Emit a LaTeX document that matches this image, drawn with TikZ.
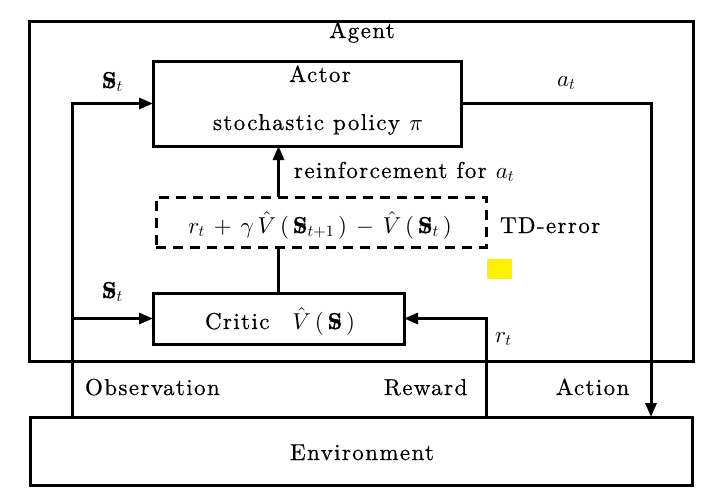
\documentclass[tikz,border=0pt]{standalone}
\usepackage{fontspec}
\setmainfont{lmroman10-regular.otf}[LetterSpace=6,FakeBold=0.6,BoldFont=lmroman10-bold.otf,ItalicFont=lmroman10-italic.otf]
\DeclareFontShape{OML}{cmm}{m}{it}{<->cmmi10}{}
\DeclareFontShape{OMS}{cmsy}{m}{n}{<->cmsy10}{}
\DeclareFontShape{OT1}{cmr}{m}{n}{<->cmr10}{}
\DeclareFontShape{OT1}{cmr}{bx}{n}{<->cmbx10}{}
\DeclareFontShape{OMX}{cmex}{m}{n}{<->cmex10}{}
\DeclareMathSizes{23}{23}{16}{12}
\usetikzlibrary{arrows.meta,calc}
\newcommand{\Sx}{\mathord{\ooalign{$\mathbf{S}$\cr\hidewidth$x$\hidewidth\cr}}}
\newcommand{\mgap}{\mkern3mu}
\begin{document}
\begin{tikzpicture}[x=1pt,y=-1pt,
  every node/.style={font=\fontsize{23}{27}\selectfont, inner sep=0pt, outer sep=0pt},
  box/.style={draw, line width=3pt, minimum width=#1},
  arr/.style={line width=3pt, -{Triangle[length=14pt,width=11pt]}},
  ln/.style={line width=3pt},
  lbl/.style={anchor=base west},
  clbl/.style={anchor=base}]
\useasboundingbox (0,0) rectangle (718,496);
% boxes
\node[box=664pt, minimum height=340pt] (agent) at (361,191) {};
\node[box=308pt, minimum height=85pt] (actor) at (307,103.5) {};
\node[box=330pt, minimum height=50pt, dash pattern=on 10pt off 7pt] (td) at (321,222) {};
\node[box=251pt, minimum height=51pt] (critic) at (278.5,318.5) {};
\node[box=662pt, minimum height=68pt] (env) at (361,451) {};
\node[fill=yellow, minimum width=25pt, minimum height=20pt] (mark) at (499.5,269) {};
% texts
\node[clbl] (tagent) at (362,38) {Agent};
\node[clbl] (tactor) at (320,82) {Actor};
\node[clbl] (tpolicy) at (318,130) {stochastic policy $\pi$};
\node[lbl] (treinf) at (294,178) {reinforcement for $a_t$};
\node[clbl] (tform) at (320,233) {$r_t\mgap+\mgap\gamma\mgap\hat V\mgap(\mgap\Sx_{t+1}\mgap)\mgap-\mgap\hat V\mgap(\mgap\Sx_t\mgap)$};
\node[lbl] (ttd) at (500,233) {TD-error};
\node[lbl] (tcritic) at (205,329) {Critic\quad$\hat V\mgap(\mgap\Sx\mgap)$};
\node[lbl] (ts1) at (102,88) {$\Sx_t$};
\node[lbl] (ts2) at (102,298) {$\Sx_t$};
\node[lbl] (tat) at (557,86) {$a_t$};
\node[lbl] (trt) at (495,342) {$r_t$};
\node[lbl] (tobs) at (85,395) {Observation};
\node[lbl] (trew) at (384,395) {Reward};
\node[lbl] (tact) at (556,395) {Action};
\node[clbl] (tenv) at (362,460) {Environment};
% connector coordinates
\coordinate (obs) at (72,417);
\coordinate (obsmid) at (72,318.5);
\coordinate (rew) at (486,417);
\coordinate (act) at (651,417);
% connectors
\draw[arr] (obs) |- (actor.west);
\draw[arr] (obsmid) -- (critic.west);
\draw[arr] (rew) |- (critic.east);
\draw[arr] (actor.east) -| (act);
\draw[ln] (critic.north) -- (td.south -| critic.north);
\draw[arr] (td.north -| critic.north) -- (actor.south -| critic.north);
\end{tikzpicture}
\end{document}
